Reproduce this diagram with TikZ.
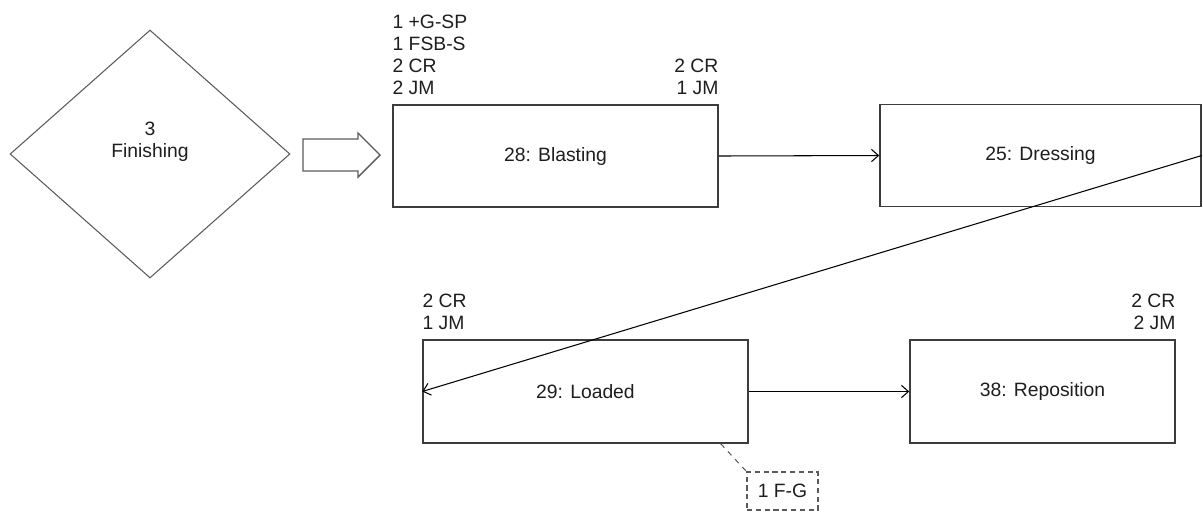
\documentclass[tikz,border=0pt]{standalone}
\usepackage{fontspec}
\setmainfont{Liberation Sans}
\usepackage{xcolor}
\definecolor{BoxGray}{RGB}{60,60,60}
\definecolor{LineGray}{RGB}{90,90,90}
\definecolor{TextGray}{RGB}{30,30,30}
\usetikzlibrary{shapes.geometric, arrows.meta, positioning, calc}
\tikzset{
  % Activity box
  actbox/.style={
    rectangle, draw=BoxGray, line width=0.9pt,
    minimum width=6.5cm, minimum height=2.04cm,
    text=TextGray, font=\fontsize{11}{12.5}\selectfont,
    inner sep=0pt
  },
  % Phase diamond
  phase/.style={
    diamond, draw=LineGray, line width=0.6pt,
    minimum width=5.6cm, minimum height=4.96cm, inner sep=0pt
  },
  % Resource labels above the boxes
  reslbl/.style={
    text=TextGray, font=\fontsize{11}{12.5}\selectfont,
    inner xsep=0pt, inner ysep=5.5pt
  },
  % Note box
  notebox/.style={
    rectangle, draw=LineGray, densely dashed, line width=0.8pt,
    minimum width=1.42cm, minimum height=0.76cm,
    text=TextGray, font=\fontsize{11}{12.5}\selectfont, inner sep=0pt
  },
  % Arrows
  flowarr/.style={-{Straight Barb[length=4pt,width=7pt]}, line width=0.6pt, black},
  notelink/.style={dashed, line width=0.6pt, LineGray},
}

\begin{document}
\begin{tikzpicture}[x=0.02cm, y=-0.02cm]
  \useasboundingbox (0,0) rectangle (1203,512);

  % Phase
  \node[phase] (finishing) at (150,154) {};
  \node[text=TextGray, font=\fontsize{11}{12.5}\selectfont, align=center] (finlbl) at (150,142) {3\\Finishing};
  \draw[LineGray, line width=0.8pt] (303,139) -- (358,139) -- (358,133) -- (380,155)
    -- (358,177) -- (358,171) -- (303,171) -- cycle;

  % Activities
  \node[actbox] (blasting) at (555.5,156) {28: Blasting};
  \node[actbox, minimum width=6.42cm] (dressing) at (1040.5,155.5) {25: Dressing};
  \node[actbox, minimum height=2.06cm] (loaded) at (585.5,391.5) {29: Loaded};
  \node[actbox, minimum width=5.3cm, minimum height=2.06cm] (reposition) at (1042.5,391.5) {38: Reposition};

  % Resources
  \node[reslbl, align=left, anchor=south west] (blastin) at (blasting.north west) {1 +G-SP\\1 FSB-S\\2 CR\\2 JM};
  \node[reslbl, align=right, anchor=south east] (blastout) at (blasting.north east) {2 CR\\1 JM};
  \node[reslbl, align=left, anchor=south west] (loadin) at (loaded.north west) {2 CR\\1 JM};
  \node[reslbl, align=right, anchor=south east] (repout) at (reposition.north east) {2 CR\\2 JM};

  % Note
  \node[notebox] (fg) at (782.5,491) {1 F-G};

  % Connectors
  \draw[flowarr] (blasting.east) -- (dressing.west);
  \draw[flowarr] (dressing.east) -- (loaded.west);
  \draw[flowarr] (loaded.east) -- (reposition.west);
  \draw[notelink] ($(loaded.south east)+(-28,0)$) -- (fg.north west);
\end{tikzpicture}
\end{document}
